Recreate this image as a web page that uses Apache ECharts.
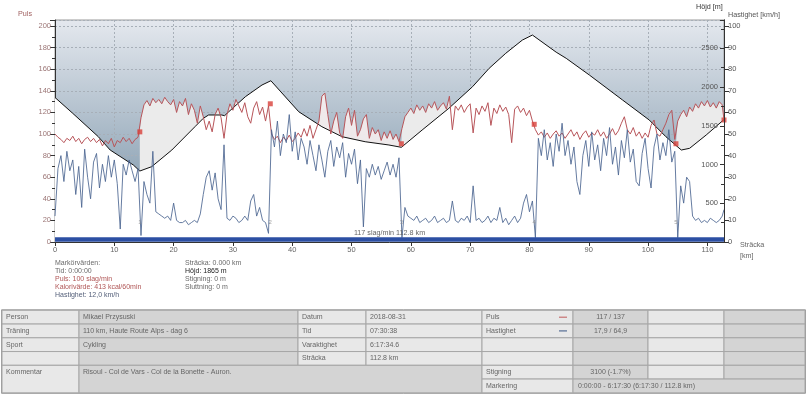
<!DOCTYPE html>
<html><head><meta charset="utf-8">
<script src="https://cdn.jsdelivr.net/npm/echarts@6/dist/echarts.min.js"></script>
<style>html,body{margin:0;padding:0;background:#fff}#c{width:807px;height:395px}</style>
</head><body><div id="c"></div>
<script>
// ---------------- data ----------------
const SAMPLE_STEP_KM = 0.5;      // samples every 0.5 km, last sample at the finish
const TOTAL_KM = 112.8;

// heart rate [slag/min], one value per sample (lap by lap)
const hrValues = [
  // lap 1  0 – 14 km
  100,97,95,92,96,94,98,93,96,91,95,97,93,96,92,95,89,94,91,96,88,94,92,97,93,96,91,95,97,
  // lap 2  14.5 – 36 km (Col de Vars)
  115,127,131,126,133,129,132,128,134,130,127,132,120,130,126,133,118,128,122,110,126,116,104,112,102,118,124,115,96,118,128,122,132,126,120,129,116,110,124,130,118,125,112,126,
  // lap 3  36.5 – 58 km
  100,95,98,92,97,94,99,93,96,101,97,105,98,108,96,104,112,135,138,118,100,112,120,101,96,116,124,108,122,98,104,114,118,96,106,100,104,94,102,96,103,95,100,93,
  // lap 4  58.5 – 80.5 km (Bonette)
  105,116,120,124,119,127,122,126,120,128,124,130,122,126,129,123,135,104,126,122,127,120,125,128,101,124,118,126,121,129,108,124,119,127,121,125,118,92,123,126,120,124,117,122,112,
  // lap 5  81 – 104.5 km
  104,99,102,97,101,96,100,103,98,101,96,100,104,98,102,95,100,103,97,101,99,104,98,102,96,100,105,99,103,110,116,104,100,106,98,102,96,101,97,108,113,100,98,104,110,118,122,95,
  // lap 6  105 – 112.5 km, 112.8 km (Auron)
  112,118,122,116,125,121,128,124,130,126,131,125,129,124,130,127,113
];

// speed [km/h], one value per sample
const speedValues = [
  12,34,40,28,42,33,38,22,35,16,43,30,20,37,41,25,36,28,40,30,38,27,6,36,31,38,33,28,34,
  3,28,22,18,42,14,13,12,11,12,10,18,10,9,9,10,8,9,10,9,13,22,30,33,24,32,20,15,45,11,10,12,11,9,10,12,10,19,22,12,16,10,9,4,
  52,44,56,40,50,46,59,42,51,38,48,44,36,47,40,33,45,38,30,42,47,35,44,39,46,30,41,36,43,27,38,7,34,30,36,31,35,29,33,37,31,36,30,39,
  2,16,12,11,10,12,9,10,11,9,10,12,9,10,11,9,10,19,10,9,11,10,12,9,26,10,11,9,10,12,9,11,10,16,9,11,8,10,12,9,11,18,22,14,19,
  2,48,40,52,38,46,35,50,42,55,40,47,36,44,28,22,40,47,35,51,38,45,33,48,40,53,36,44,31,47,39,52,37,43,28,26,41,48,34,25,44,50,38,46,40,52,37,42,
  2,26,18,30,28,12,10,11,9,10,9,11,10,9,10,12,15
];

// altitude profile
const altitudeKm = [0,3,7.3,9.3,13.2,14.3,16.3,19.7,23.6,25.0,25.9,28.1,28.6,29.3,32.1,34.9,36.4,41.1,45.0,48.4,52.3,56.3,58.4,61.9,66.4,70.4,73.2,76.0,78.8,80.5,84.5,86.2,90.1,95.7,100.2,103.0,105.6,107.0,109.8,112.8];
const altitudeM  = [1865,1660,1359,1187,994,916,972,1187,1488,1596,1639,1639,1630,1681,1875,2026,2081,1681,1488,1359,1294,1252,1222,1445,1725,2004,2241,2435,2606,2671,2450,2370,2155,1832,1574,1359,1187,1209,1381,1580];

// lap markers
const lapKm = [14.3, 36.3, 58.4, 80.8, 104.7, 112.8];
const lapHr = [102, 128, 91, 109, 91, 113];
const lapLabels = ['1','2','3','4','5'];

// selection (blue bar) and its summary
const selectionKm = [0, 112.8];
const selectionText = '117 slag/min 112.8 km';

// axis ticks
const xTickStep = 10, pulsTickStep = 20, hojdTickStep = 500, speedTickStep = 10;

// marker value texts
const markerLeft = [
  ['Markörvärden:', '#6a6a6a'], ['Tid: 0:00:00', '#6a6a6a'], ['Puls: 100 slag/min', '#b05656'],
  ['Kalorivärde: 413 kcal/60min', '#b05656'], ['Hastighet: 12,0 km/h', '#55607a']
];
const markerRight = [
  ['Sträcka: 0.000 km', '#6a6a6a'], ['Höjd: 1865 m', '#222'], ['Stigning: 0 m', '#6a6a6a'], ['Sluttning: 0 m', '#6a6a6a']
];

// table
const tableLeft = [
  ['Person', 'Mikael Przysuski', 'Datum', '2018-08-31'],
  ['Träning', '110 km, Haute Route Alps - dag 6', 'Tid', '07:30:38'],
  ['Sport', 'Cykling', 'Varaktighet', '6:17:34.6'],
  ['', '', 'Sträcka', '112.8 km']
];
const tableRight = [
  ['Puls', '117 / 137'],
  ['Hastighet', '17,9 / 64,9'],
  ['', ''],
  ['', '']
];
const commentLabel = 'Kommentar';
const commentText = 'Risoul - Col de Vars - Col de la Bonette - Auron.';
const climbRow = ['Stigning', '3100 (-1.7%)'];
const markRow = ['Markering', '0:00:00 - 6:17:30 (6:17:30 / 112.8 km)'];

// ---------------- build ----------------
const n = hrValues.length;
const sampleKm = hrValues.map((v, i) => i < n - 1 ? +(i * SAMPLE_STEP_KM).toFixed(2) : TOTAL_KM);
const hrPairs = hrValues.map((v, i) => [sampleKm[i], v]);
const speedPairs = speedValues.map((v, i) => [sampleKm[i], v]);
const altPairs = altitudeKm.map((k, i) => [k, altitudeM[i]]);
const lapPairs = lapKm.map((k, i) => [k, lapHr[i]]);

const lapStart = [0].concat(lapKm.slice(0, -1));
const lapStartHr = [hrValues[0]].concat(lapHr.slice(0, -1));
const lapFillColor = [null, '#ebebeb', 'rgba(246,238,238,0.9)', '#ebebeb', null, '#ebebeb'];
const fillSeries = [];
lapKm.forEach((end, li) => {
  if (!lapFillColor[li]) return;
  const s = lapStart[li];
  const d = [[s, lapStartHr[li]]].concat(hrPairs.filter(p => p[0] > s && p[0] < end)).concat([[end, lapHr[li]]]);
  fillSeries.push({
    type: 'line', yAxisIndex: 0, data: d, symbol: 'none', silent: true, z: 2,
    lineStyle: { width: 0, opacity: 0 }, areaStyle: { color: lapFillColor[li], opacity: 1, origin: 'start' }
  });
});

const FONT = "'Liberation Sans', Arial, sans-serif";
const fs = 7.2;
const grey = '#666';

const chart = echarts.init(document.getElementById('c'), null, { renderer: 'canvas', width: 807, height: 395 });

const G = [];
function txt(x, y, text, color, opt) {
  opt = opt || {};
  G.push({ type: 'text', silent: true, z: 100, x: x, y: y,
    style: { text: text, fill: color || grey, font: (opt.size || fs) + 'px ' + FONT,
      textAlign: opt.align || 'left', align: opt.align || 'left',
      textVerticalAlign: 'middle', verticalAlign: 'middle' } });
}
function rect(x, y, w, h, fill) {
  G.push({ type: 'rect', silent: true, z: 90, shape: { x: x, y: y, width: w, height: h },
    style: { fill: fill, stroke: '#a6a6a6', lineWidth: 1 } });
}

// axis titles
txt(18, 14, 'Puls', '#a06060');
txt(696, 7, 'Höjd [m]', '#333');
txt(728, 15, 'Hastighet [km/h]', '#555');
txt(740, 245.5, 'Sträcka', '#666');
txt(740, 256.5, '[km]', '#666');
// selection text
txt(389.5, 233, selectionText, '#666', { align: 'center' });
// marker texts
markerLeft.forEach((m, i) => txt(55, 263.5 + i * 7.9, m[0], m[1], { size: 7 }));
markerRight.forEach((m, i) => txt(185, 263.5 + i * 7.9, m[0], m[1], { size: 7 }));

// table
const cols = [2, 79, 298, 366, 482, 573, 648, 724, 805];
const RH = 13.75;
const T0 = 310.3;
const rowsY = [T0, T0 + RH, T0 + 2 * RH, T0 + 3 * RH, T0 + 4 * RH];
const LIGHT = '#e8e8e8', DARK = '#d4d4d4';
const colFill = [LIGHT, DARK, LIGHT, LIGHT, LIGHT, DARK, LIGHT, DARK];
G.push({ type: 'rect', silent: true, z: 89, shape: { x: 1.5, y: T0 - 0.5, width: 804, height: 6 * RH + 1 }, style: { fill: '#f0f0f0', stroke: '#9a9a9a', lineWidth: 1 } });
for (let r = 0; r < 4; r++) {
  for (let c = 0; c < 8; c++) rect(cols[c], rowsY[r], cols[c + 1] - cols[c], RH, colFill[c]);
  const cy = rowsY[r] + RH / 2;
  for (let c = 0; c < 4; c++) txt(cols[c] + 4, cy, tableLeft[r][c], grey, { size: 7 });
  txt(cols[4] + 4, cy, tableRight[r][0], grey, { size: 7 });
  txt((cols[5] + cols[6]) / 2, cy, tableRight[r][1], grey, { size: 7, align: 'center' });
}
const ySt = T0 + 4 * RH, yMk = T0 + 5 * RH, yEnd = T0 + 6 * RH;
rect(cols[0], ySt, cols[1] - cols[0], yEnd - ySt, LIGHT);
rect(cols[1], ySt, cols[4] - cols[1], yEnd - ySt, DARK);
for (let c = 4; c < 8; c++) rect(cols[c], ySt, cols[c + 1] - cols[c], RH, colFill[c]);
rect(cols[4], yMk, cols[5] - cols[4], RH, LIGHT);
rect(cols[5], yMk, cols[8] - cols[5], RH, DARK);
txt(cols[0] + 4, ySt + RH / 2, commentLabel, grey, { size: 7 });
txt(cols[1] + 4, ySt + RH / 2, commentText, grey, { size: 7 });
txt(cols[4] + 4, ySt + RH / 2, climbRow[0], grey, { size: 7 });
txt((cols[5] + cols[6]) / 2, ySt + RH / 2, climbRow[1], grey, { size: 7, align: 'center' });
txt(cols[4] + 4, yMk + RH / 2, markRow[0], grey, { size: 7 });
txt(cols[5] + 5, yMk + RH / 2, markRow[1], grey, { size: 7 });
// legend dashes in table
G.push({ type: 'line', silent: true, z: 101, shape: { x1: 559, y1: T0 + RH / 2, x2: 567, y2: T0 + RH / 2 }, style: { stroke: '#c05a5a', lineWidth: 1 } });
G.push({ type: 'line', silent: true, z: 101, shape: { x1: 559, y1: T0 + 1.5 * RH, x2: 567, y2: T0 + 1.5 * RH }, style: { stroke: '#3a5585', lineWidth: 1 } });

const gridLine = { show: true, lineStyle: { color: '#a7afb8', width: 1, type: [2, 2] } };

chart.setOption({
  animation: false,
  backgroundColor: '#fff',
  grid: {
    left: 55, right: 83, top: 20, bottom: 153, containLabel: false, outerBoundsMode: 'none',
    show: true, borderColor: '#9a9a9a', borderWidth: 1,
    backgroundColor: new echarts.graphic.LinearGradient(0, 0, 0, 1, [
      { offset: 0, color: '#e4e8ee' }, { offset: 1, color: '#6f8ba1' }])
  },
  xAxis: {
    type: 'value', min: 0, max: TOTAL_KM, interval: xTickStep,
    axisLine: { show: true, lineStyle: { color: '#333' } },
    axisTick: { show: true, length: 4, lineStyle: { color: '#333' } },
    axisLabel: { color: '#666', fontSize: 7.5, fontFamily: FONT, margin: 4, showMaxLabel: false },
    splitLine: gridLine
  },
  yAxis: [
    { type: 'value', position: 'left', min: 0, max: 205.6, interval: pulsTickStep,
      axisLine: { show: true, lineStyle: { color: '#333' } },
      axisTick: { show: true, length: 5, lineStyle: { color: '#333' } },
      minorTick: { show: true, splitNumber: 2, length: 3, lineStyle: { color: '#333' } },
      axisLabel: { color: '#9c7676', fontSize: 7.5, fontFamily: FONT, margin: 4, showMaxLabel: false,
        formatter: v => (v % 20 === 0 ? String(v) : '') },
      splitLine: gridLine },
    { type: 'value', position: 'right', min: 0, max: 2865, interval: hojdTickStep, z: 10,
      axisLine: { show: true, lineStyle: { color: '#333' } },
      axisTick: { show: true, inside: true, length: 4, lineStyle: { color: '#333' } },
      minorTick: { show: true, splitNumber: 2, length: 3, lineStyle: { color: '#333' } },
      axisLabel: { inside: true, color: '#555', fontSize: 7.5, fontFamily: FONT, margin: 6,
        showMinLabel: false, showMaxLabel: false, formatter: v => (v % 500 === 0 && v > 0 ? String(v) : '') },
      splitLine: { show: false } },
    { type: 'value', position: 'right', min: 0, max: 102.8, interval: speedTickStep, z: 10,
      axisLine: { show: true, lineStyle: { color: '#333' } },
      axisTick: { show: true, length: 5, lineStyle: { color: '#333' } },
      axisLabel: { color: '#555', fontSize: 7.5, fontFamily: FONT, margin: 4, showMaxLabel: false,
        formatter: v => (v % 10 === 0 ? String(v) : '') },
      splitLine: { show: false } }
  ],
  series: fillSeries.concat([
    { name: 'Höjd', type: 'line', yAxisIndex: 1, data: altPairs, symbol: 'none', silent: true, z: 3,
      lineStyle: { color: '#111', width: 1 }, areaStyle: { color: '#ffffff', opacity: 1, origin: 'start' } },
    { name: 'Puls', type: 'line', yAxisIndex: 0, data: hrPairs, symbol: 'none', silent: true, z: 4,
      lineStyle: { color: '#b8555a', width: 1 } },
    { name: 'Hastighet', type: 'line', yAxisIndex: 2, data: speedPairs, symbol: 'none', silent: true, z: 5,
      lineStyle: { color: '#4b6590', width: 1, opacity: 0.85 } },
    { type: 'line', yAxisIndex: 0, data: selectionKm.map(k => [k, 2.2]), symbol: 'none', silent: true, z: 6,
      lineStyle: { color: '#2c4fa3', width: 4.5 } },
    { type: 'scatter', yAxisIndex: 0, data: lapPairs, symbol: 'rect', symbolSize: 5, silent: true, z: 7,
      itemStyle: { color: '#d8403a' } },
    { type: 'scatter', yAxisIndex: 2, data: lapLabels.map((t, i) => [lapKm[i], 9, t]), symbolSize: 0, silent: true, z: 7,
      label: { show: true, position: 'inside', formatter: p => p.data[2], color: '#888', fontSize: 6, fontFamily: FONT } }
  ]),
  graphic: { elements: G }
});
</script></body></html>
